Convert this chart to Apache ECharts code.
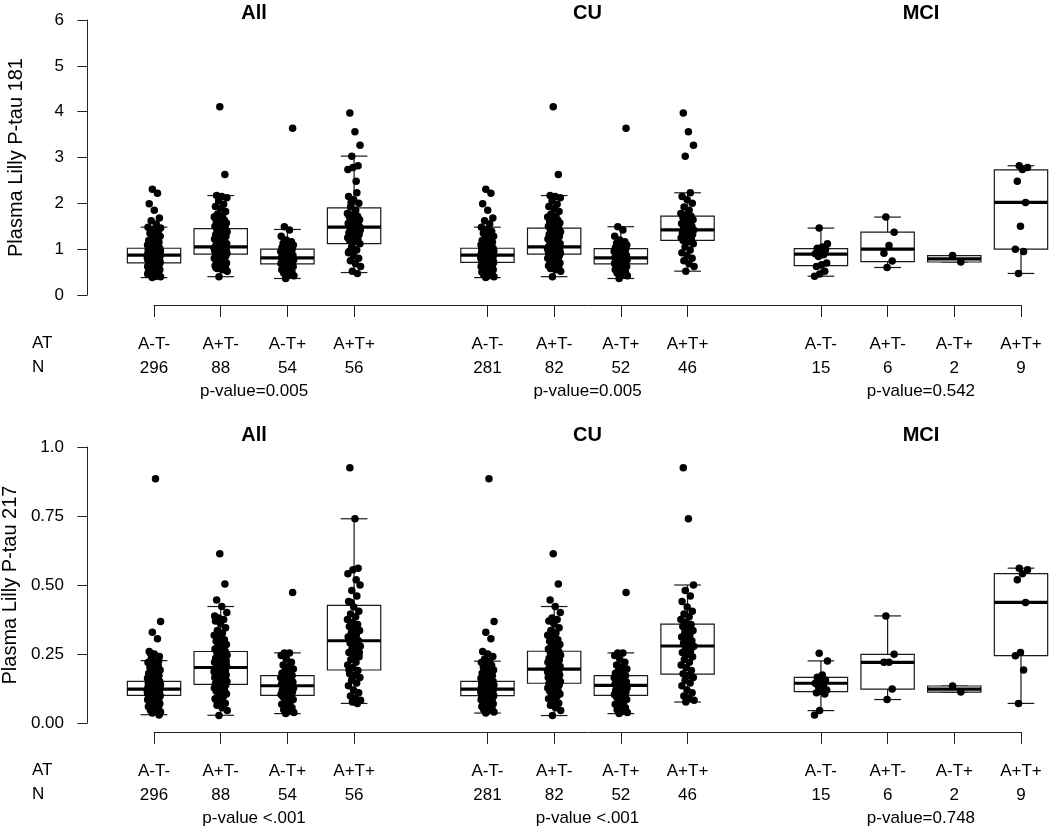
<!DOCTYPE html>
<html><head><meta charset="utf-8">
<script src="https://cdn.jsdelivr.net/npm/echarts@6/dist/echarts.min.js"></script>
<style>html,body{margin:0;padding:0;background:#fff}#c{width:1050px;height:828px}</style>
</head><body><div id="c"></div>
<script>
// ---------- labels ----------
const panelTitles = ['All', 'CU', 'MCI'];
const atLabels = ['A-T-', 'A+T-', 'A-T+', 'A+T+'];
const nAll = [296, 88, 54, 56];
const nCU = [281, 82, 52, 46];
const nMCI = [15, 6, 2, 9];
const pTop = ['p-value=0.005', 'p-value=0.005', 'p-value=0.542'];
const pBottom = ['p-value <.001', 'p-value <.001', 'p-value=0.748'];
const yTicks181 = ['0', '1', '2', '3', '4', '5', '6'];
const yTicks217 = ['0.00', '0.25', '0.50', '0.75', '1.0'];
const yName181 = 'Plasma Lilly P-tau 181';
const yName217 = 'Plasma Lilly P-tau 217';

// ---------- box stats: [lower whisker, Q1, median, Q3, upper whisker] ----------
const box181All = [[0.38, 0.70, 0.87, 1.02, 1.48], [0.40, 0.89, 1.05, 1.45, 2.17], [0.36, 0.68, 0.81, 1.00, 1.43], [0.49, 1.12, 1.48, 1.90, 3.03]];
const box181CU = [[0.38, 0.71, 0.87, 1.02, 1.48], [0.40, 0.89, 1.05, 1.46, 2.17], [0.36, 0.68, 0.81, 1.01, 1.49], [0.52, 1.19, 1.42, 1.72, 2.23]];
const box181MCI = [[0.41, 0.64, 0.89, 1.01, 1.46], [0.60, 0.73, 1.00, 1.37, 1.70], [0.72, 0.72, 0.79, 0.86, 0.86], [0.47, 1.00, 2.02, 2.73, 2.82]];
const box217All = [[0.030, 0.100, 0.123, 0.151, 0.226], [0.028, 0.140, 0.201, 0.259, 0.422], [0.034, 0.100, 0.135, 0.172, 0.254], [0.071, 0.192, 0.298, 0.426, 0.740]];
const box217CU = [[0.036, 0.099, 0.123, 0.151, 0.224], [0.027, 0.144, 0.195, 0.260, 0.422], [0.034, 0.100, 0.136, 0.172, 0.254], [0.076, 0.177, 0.279, 0.358, 0.500]];
const box217MCI = [[0.045, 0.114, 0.144, 0.165, 0.225], [0.085, 0.123, 0.220, 0.249, 0.388], [0.112, 0.112, 0.123, 0.134, 0.134], [0.071, 0.244, 0.437, 0.541, 0.561]];

// ---------- individual points (P-tau 181) ----------
const p181CU1 = [0.38,0.40,0.42,0.44,0.46,0.48,0.50,0.52,0.53,0.55,0.56,0.58,0.59,0.60,0.62,0.63,0.64,0.66,0.67,0.68,0.69,0.70,0.71,0.72,0.73,0.74,0.74,0.75,0.76,0.77,0.77,0.78,0.79,0.80,0.80,0.81,0.82,0.83,0.83,0.84,0.85,0.85,0.86,0.87,0.87,0.88,0.89,0.90,0.90,0.91,0.92,0.93,0.93,0.94,0.95,0.96,0.96,0.97,0.98,0.99,0.99,1.00,1.01,1.01,1.02,1.02,1.03,1.05,1.07,1.09,1.11,1.13,1.15,1.17,1.19,1.22,1.25,1.28,1.31,1.35,1.39,1.43,1.48,1.55,1.62,1.68,1.85,1.99,2.22,2.31];
const p181CU2 = [0.40,0.52,0.55,0.58,0.60,0.62,0.64,0.66,0.68,0.70,0.72,0.74,0.76,0.78,0.80,0.82,0.84,0.85,0.87,0.88,0.89,0.90,0.91,0.92,0.93,0.94,0.95,0.96,0.97,0.98,0.99,1.00,1.00,1.01,1.02,1.02,1.03,1.04,1.04,1.05,1.06,1.08,1.10,1.12,1.14,1.16,1.18,1.20,1.22,1.24,1.26,1.28,1.30,1.32,1.34,1.36,1.38,1.40,1.43,1.46,1.48,1.50,1.52,1.55,1.57,1.60,1.62,1.63,1.66,1.70,1.72,1.76,1.82,1.88,1.93,1.98,2.05,2.12,2.15,2.17,2.63,4.11];
const p181CU3 = [0.36,0.42,0.45,0.48,0.50,0.53,0.55,0.58,0.60,0.62,0.64,0.66,0.67,0.68,0.69,0.70,0.71,0.72,0.73,0.74,0.75,0.76,0.77,0.78,0.79,0.80,0.81,0.82,0.84,0.85,0.87,0.88,0.90,0.92,0.93,0.95,0.97,0.99,1.00,1.01,1.03,1.05,1.07,1.09,1.11,1.13,1.16,1.20,1.28,1.42,1.49,3.64];
const p181CU4 = [0.52,0.62,0.68,0.75,0.80,0.86,0.92,0.98,1.05,1.12,1.17,1.19,1.21,1.23,1.25,1.28,1.30,1.32,1.34,1.36,1.38,1.40,1.42,1.44,1.47,1.50,1.53,1.56,1.58,1.61,1.64,1.67,1.70,1.72,1.75,1.78,1.85,1.92,2.00,2.08,2.15,2.23,3.03,3.27,3.56,3.97];
const p181MCI1 = [1.46,1.12,1.05,1.02,0.99,0.95,0.90,0.88,0.84,0.70,0.66,0.62,0.52,0.46,0.41];
const p181MCI2 = [1.70,1.37,1.08,0.91,0.74,0.60];
const p181MCI3 = [0.86,0.72];
const p181MCI4 = [2.82,2.78,2.74,2.48,2.02,1.50,1.00,0.95,0.47];

// ---------- individual points (P-tau 217) ----------
const p217CU1 = [0.036,0.040,0.044,0.048,0.052,0.056,0.060,0.064,0.067,0.070,0.073,0.076,0.079,0.082,0.084,0.086,0.088,0.090,0.092,0.094,0.096,0.098,0.099,0.100,0.101,0.102,0.103,0.104,0.105,0.106,0.107,0.108,0.109,0.110,0.111,0.112,0.113,0.114,0.115,0.116,0.118,0.119,0.121,0.122,0.123,0.124,0.125,0.126,0.128,0.129,0.130,0.131,0.133,0.134,0.135,0.137,0.138,0.139,0.141,0.142,0.144,0.145,0.147,0.148,0.150,0.151,0.153,0.156,0.159,0.162,0.165,0.168,0.172,0.176,0.180,0.184,0.188,0.192,0.197,0.202,0.208,0.214,0.219,0.224,0.232,0.241,0.250,0.259,0.305,0.329,0.368,0.885];
const p217CU2 = [0.027,0.045,0.055,0.064,0.072,0.080,0.088,0.095,0.100,0.105,0.110,0.115,0.119,0.123,0.127,0.131,0.135,0.138,0.141,0.143,0.144,0.147,0.150,0.153,0.156,0.159,0.162,0.165,0.168,0.171,0.174,0.177,0.180,0.182,0.184,0.186,0.188,0.190,0.192,0.194,0.196,0.199,0.202,0.205,0.208,0.211,0.214,0.217,0.220,0.223,0.226,0.229,0.232,0.235,0.238,0.242,0.246,0.250,0.255,0.260,0.263,0.268,0.273,0.278,0.284,0.290,0.296,0.302,0.310,0.318,0.326,0.335,0.345,0.360,0.370,0.375,0.380,0.400,0.422,0.446,0.504,0.613];
const p217CU3 = [0.034,0.038,0.042,0.048,0.055,0.062,0.068,0.074,0.080,0.085,0.090,0.095,0.099,0.100,0.103,0.106,0.109,0.112,0.115,0.118,0.121,0.124,0.127,0.130,0.133,0.135,0.137,0.140,0.143,0.146,0.149,0.152,0.155,0.158,0.161,0.164,0.167,0.170,0.172,0.175,0.180,0.185,0.190,0.196,0.202,0.210,0.220,0.232,0.245,0.254,0.254,0.473];
const p217CU4 = [0.076,0.082,0.090,0.098,0.110,0.120,0.135,0.145,0.155,0.165,0.172,0.178,0.190,0.200,0.210,0.220,0.230,0.240,0.248,0.255,0.262,0.270,0.278,0.282,0.290,0.298,0.305,0.312,0.320,0.328,0.335,0.342,0.350,0.357,0.365,0.375,0.385,0.395,0.405,0.420,0.440,0.460,0.480,0.500,0.740,0.925];
const p217MCI1 = [0.253,0.225,0.174,0.166,0.156,0.150,0.144,0.138,0.132,0.120,0.114,0.110,0.105,0.045,0.029];
const p217MCI2 = [0.388,0.249,0.220,0.220,0.123,0.085];
const p217MCI3 = [0.134,0.112];
const p217MCI4 = [0.561,0.555,0.541,0.519,0.437,0.255,0.244,0.192,0.071];

// ---------- layout ----------
const W = 1050, PLOT_LEFT = 83;
const X_MIN = -0.065, X_MAX = 14.435;
const PLOT_W = W - PLOT_LEFT;
const ROW_TOP = [20, 447];
const ROW_H = [275, 276];
const TITLE_Y = [13, 435];
const AXIS_Y = [304, 731];
const BOX_W = 0.8, STAPLE_W = 0.4, JITTER = 0.2;
const FONT = 'Liberation Sans';

function pos(g, c) { return 1 + 5 * g + c; }
function px(p) { return PLOT_LEFT + (p - X_MIN) / (X_MAX - X_MIN) * PLOT_W; }
function jitter(i) { return (((i * 0.6180339887 + 0.37) % 1) - 0.5) * JITTER; }

const cu181 = [p181CU1, p181CU2, p181CU3, p181CU4];
const mci181 = [p181MCI1, p181MCI2, p181MCI3, p181MCI4];
const all181 = cu181.map((a, i) => a.concat(mci181[i]));
const cu217 = [p217CU1, p217CU2, p217CU3, p217CU4];
const mci217 = [p217MCI1, p217MCI2, p217MCI3, p217MCI4];
const all217 = cu217.map((a, i) => a.concat(mci217[i]));

const rows = [
  { boxes: [box181All, box181CU, box181MCI], pts: [all181, cu181, mci181], ticks: yTicks181, max: 6, interval: 1, name: yName181, pv: pTop },
  { boxes: [box217All, box217CU, box217MCI], pts: [all217, cu217, mci217], ticks: yTicks217, max: 1, interval: 0.25, name: yName217, pv: pBottom }
];
const nGroups = [nAll, nCU, nMCI];

function renderBox(params, api) {
  const x = api.value(0);
  const lw = api.coord([x, api.value(1)]);
  const q1 = api.coord([x, api.value(2)]);
  const md = api.coord([x, api.value(3)]);
  const q3 = api.coord([x, api.value(4)]);
  const uw = api.coord([x, api.value(5)]);
  const w = api.size([BOX_W, 0])[0];
  const sw = api.size([STAPLE_W, 0])[0];
  const cx = md[0];
  const st = { stroke: '#1a1a1a', lineWidth: 1.2, fill: null };
  return { type: 'group', children: [
    { type: 'line', shape: { x1: cx, y1: q3[1], x2: cx, y2: uw[1] }, style: st },
    { type: 'line', shape: { x1: cx, y1: lw[1], x2: cx, y2: q1[1] }, style: st },
    { type: 'line', shape: { x1: cx - sw / 2, y1: uw[1], x2: cx + sw / 2, y2: uw[1] }, style: st },
    { type: 'line', shape: { x1: cx - sw / 2, y1: lw[1], x2: cx + sw / 2, y2: lw[1] }, style: st },
    { type: 'rect', shape: { x: cx - w / 2, y: q3[1], width: w, height: q1[1] - q3[1] }, style: { fill: '#fff', stroke: '#1a1a1a', lineWidth: 1.2 } },
    { type: 'line', shape: { x1: cx - w / 2, y1: md[1], x2: cx + w / 2, y2: md[1] }, style: { stroke: '#000', lineWidth: 3.2 } }
  ]};
}

const grids = [], xAxes = [], yAxes = [], series = [], titles = [];
const catData = [];
for (let p = 1; p <= 14; p++) catData.push(String(p));
const hideGap = (idx) => idx !== 4 && idx !== 9;

rows.forEach((row, r) => {
  grids.push({ left: PLOT_LEFT, width: PLOT_W, top: ROW_TOP[r], height: ROW_H[r], outerBoundsMode: 'none', containLabel: false });
  xAxes.push({ gridIndex: r, type: 'value', min: X_MIN, max: X_MAX, show: false });
  yAxes.push({
    gridIndex: r, type: 'value', min: 0, max: row.max, interval: row.interval,
    axisLine: { show: true, lineStyle: { color: '#222', width: 1 } },
    axisTick: { show: true, length: 10, lineStyle: { color: '#222' } },
    splitLine: { show: false },
    axisLabel: { fontSize: 17, color: '#000', fontFamily: FONT, margin: 19,
      formatter: (v) => row.ticks[Math.round(v / row.interval)] },
    name: row.name, nameLocation: 'middle', nameGap: 57,
    nameTextStyle: { fontSize: 20, color: '#000', fontFamily: FONT }
  });
  const boxData = [], ptData = [];
  row.boxes.forEach((b, g) => b.forEach((s, c) => boxData.push([pos(g, c)].concat(s))));
  row.pts.forEach((grp, g) => grp.forEach((vals, c) => vals.forEach((v, i) => ptData.push([pos(g, c) + jitter(i), v]))));
  series.push({ type: 'custom', xAxisIndex: r, yAxisIndex: r, renderItem: renderBox, data: boxData,
    encode: { x: 0, y: [1, 2, 3, 4, 5] }, z: 2, silent: true });
  series.push({ type: 'scatter', xAxisIndex: r, yAxisIndex: r, data: ptData, symbolSize: 7.5,
    itemStyle: { color: '#000', opacity: 1 }, z: 3, silent: true });
  panelTitles.forEach((t, g) => {
    const cx = px(pos(g, 1.5));
    titles.push({ text: t, left: cx, top: TITLE_Y[r], textAlign: 'center', textVerticalAlign: 'middle', padding: 0,
      textStyle: { fontSize: 20, fontWeight: 'bold', color: '#000', fontFamily: FONT } });
    titles.push({ text: row.pv[g], left: cx, top: AXIS_Y[r] + 87, textAlign: 'center', textVerticalAlign: 'middle', padding: 0,
      textStyle: { fontSize: 17, fontWeight: 'normal', color: '#000', fontFamily: FONT } });
  });
  titles.push({ text: 'AT', left: 32, top: AXIS_Y[r] + 39, textAlign: 'left', textVerticalAlign: 'middle', padding: 0,
    textStyle: { fontSize: 17, fontWeight: 'normal', color: '#000', fontFamily: FONT } });
  titles.push({ text: 'N', left: 32, top: AXIS_Y[r] + 63, textAlign: 'left', textVerticalAlign: 'middle', padding: 0,
    textStyle: { fontSize: 17, fontWeight: 'normal', color: '#000', fontFamily: FONT } });
});

rows.forEach((row, r) => {
  const gi = 2 + r;
  grids.push({ left: px(1), width: px(14) - px(1), top: AXIS_Y[r], height: 1, outerBoundsMode: 'none', containLabel: false });
  xAxes.push({
    gridIndex: gi, type: 'category', data: catData, boundaryGap: false, position: 'bottom',
    axisLine: { show: true, lineStyle: { color: '#222', width: 1 } },
    axisTick: { show: true, length: 12, interval: hideGap, lineStyle: { color: '#222' } },
    axisLabel: {
      interval: hideGap, margin: 27, color: '#000', fontFamily: FONT,
      formatter: (v, idx) => {
        const g = Math.floor(idx / 5), c = idx % 5;
        return '{a|' + atLabels[c] + '}\n{n|' + nGroups[g][c] + '}';
      },
      rich: { a: { fontSize: 17, lineHeight: 24, fontFamily: FONT, color: '#000' },
              n: { fontSize: 17, lineHeight: 24, fontFamily: FONT, color: '#000' } }
    }
  });
  yAxes.push({ gridIndex: gi, type: 'value', show: false });
});

const chart = echarts.init(document.getElementById('c'), null, { renderer: 'canvas' });
chart.setOption({
  animation: false,
  backgroundColor: '#fff',
  textStyle: { fontFamily: FONT },
  title: titles,
  grid: grids,
  xAxis: xAxes,
  yAxis: yAxes,
  series: series
});
</script>
</body></html>
